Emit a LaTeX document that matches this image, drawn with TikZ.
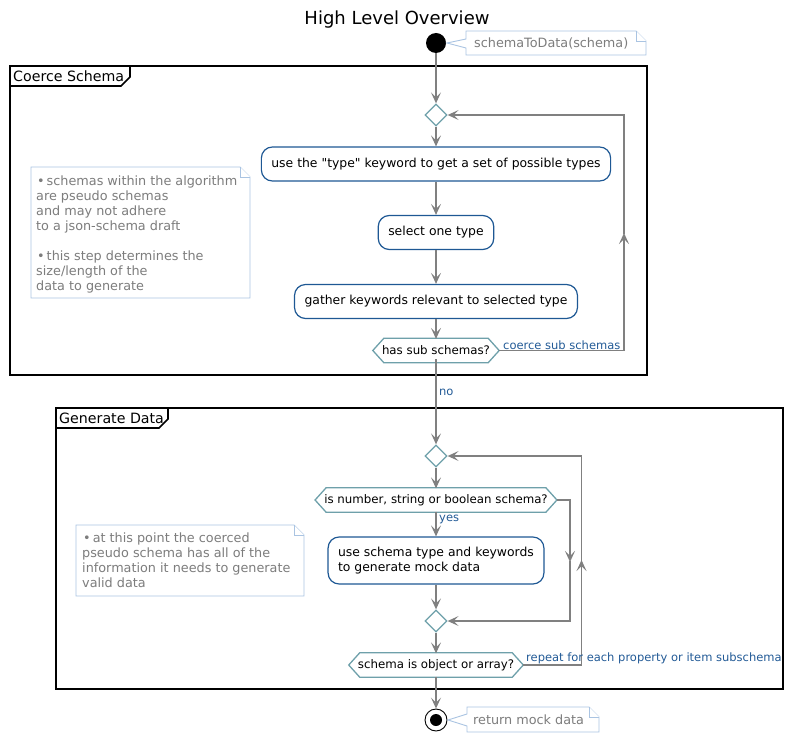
\documentclass[tikz,border=0pt]{standalone}
\usepackage{fontspec}
\setmainfont{DejaVu Sans}
\usetikzlibrary{shapes.geometric,arrows.meta,calc}
\definecolor{boxc}{RGB}{30,88,148}
\definecolor{dmc}{RGB}{110,160,170}
\definecolor{notec}{RGB}{170,196,226}
\definecolor{notet}{RGB}{125,125,125}
\definecolor{lblc}{RGB}{34,90,150}
\definecolor{linec}{RGB}{128,128,128}
\newcommand\straightquote{\XeTeXglyph\XeTeXcharglyph"0022\relax}
\tikzset{
  arr/.tip={Stealth[length=11pt,width=10pt,inset=5pt]},
  flow/.style={draw=linec, line width=1.3pt, -arr},
  plainline/.style={draw=linec, line width=1.3pt},
  actbox/.style={draw=boxc, line width=1.2pt, rounded corners=11pt, fill=white,
    inner xsep=10pt, minimum height=34pt, font=\fontsize{12.4}{15}\selectfont},
  merge/.style={diamond, draw=dmc, line width=1.3pt, minimum width=22pt,
    minimum height=22pt, inner sep=0pt, fill=white},
  hexbox/.style={inner xsep=0pt, inner ysep=0pt, minimum height=24pt, font=\fontsize{11.8}{13}\selectfont},
  hexline/.style={draw=dmc, line width=1.3pt},
  lbl/.style={text=lblc, font=\fontsize{11.5}{13}\selectfont, inner sep=0pt},
  notetxt/.style={text=notet, font=\fontsize{12.8}{15}\selectfont, align=left, inner sep=0pt},
  noteline/.style={draw=notec, line width=0.9pt, fill=white},
  frameline/.style={draw=black, line width=1.7pt},
  framelbl/.style={font=\fontsize{14.2}{16}\selectfont, inner sep=0pt},
}
\newcommand\hexshape[1]{%
  \draw[hexline] ([xshift=-9pt]#1.west) -- ([xshift=2pt]#1.north west)
    -- ([xshift=-2pt]#1.north east) -- ([xshift=9pt]#1.east)
    -- ([xshift=-2pt]#1.south east) -- ([xshift=2pt]#1.south west) -- cycle;
  \coordinate (#1-e) at ([xshift=9pt]#1.east);}
\begin{document}
\begin{tikzpicture}[x=1pt,y=-1pt]
\useasboundingbox (0,0) rectangle (794,743);

% title
\node (title) at (397,20) {\fontsize{18}{20}\selectfont High Level Overview};

% frames
\draw[frameline] (10,66) rectangle (647,375);
\draw[frameline] (10,86) -- (121,86) -- (130,77) -- (130,66);
\node[framelbl, anchor=west] (f1lbl) at (13,76) {Coerce Schema};

\draw[frameline] (56,408) rectangle (783,689);
\draw[frameline] (56,428) -- (159,428) -- (168,419) -- (168,408);
\node[framelbl, anchor=west] (f2lbl) at (59,418) {Generate Data};

% start
\node[circle, fill=black, minimum size=20pt, inner sep=0pt] (start) at (436,43) {};
\draw[noteline] (466,31) -- (636,31) -- (646,41) -- (646,55) -- (466,55) -- (466,48) -- (447,43) -- (466,39) -- cycle;
\draw[noteline] (636,31) -- (636,41) -- (646,41);
\node[notetxt, anchor=west] (n0) at (474,43) {schemaToData(schema)};

% coerce schema
\node[merge] (d1) at (436,115) {};
\node[actbox] (b1) at (436,164) {use the \straightquote type\straightquote{} keyword to get a set of possible types};
\node[actbox] (b2) at (436,232.5) {select one type};
\node[actbox] (b3) at (436,301.5) {gather keywords relevant to selected type};
\node[hexbox] (h1) at (436,350.5) {has sub schemas?};
\hexshape{h1}

\draw[noteline] (31,167) -- (240,167) -- (250,177) -- (250,298) -- (31,298) -- cycle;
\draw[noteline] (240,167) -- (240,177) -- (250,177);
\node[notetxt, anchor=north west] (n1) at (36,175.5) {\hspace{1pt}•\hspace{2pt}schemas within the algorithm\\are pseudo schemas\\and may not adhere\\to a json-schema draft\\[15pt]\hspace{1pt}•\hspace{2pt}this step determines the\\size/length of the\\data to generate};

\draw[flow] (start) -- (d1.north);
\draw[flow] (d1.south) -- (b1.north);
\draw[flow] (b1.south) -- (b2.north);
\draw[flow] (b2.south) -- (b3.north);
\draw[flow] (b3.south) -- ([yshift=-0.6pt]h1.north);
\draw[flow] (h1-e) -- (624,350.5) -- (624,233);
\draw[flow] (624,234) -- (624,115) -- (d1.east);
\node[lbl, anchor=south west] (l1) at (503,349.5) {coerce sub schemas};

% generate data
\node[merge] (d2) at (436,456) {};
\node[hexbox] (h2) at (436,500) {is number, string or boolean schema?};
\hexshape{h2}
\node[actbox, align=left, minimum height=47pt] (b4) at (436,560.5) {use schema type and keywords\\to generate mock data};
\node[merge] (d3) at (436,621) {};
\node[hexbox] (h3) at (436,665) {schema is object or array?};
\hexshape{h3}

\draw[noteline] (76,525) -- (294,525) -- (304,535) -- (304,596) -- (76,596) -- cycle;
\draw[noteline] (294,525) -- (294,535) -- (304,535);
\node[notetxt, anchor=north west] (n2) at (82,532.5) {\hspace{1pt}•\hspace{2pt}at this point the coerced\\pseudo schema has all of the\\information it needs to generate\\valid data};

\draw[flow] ([yshift=3.5pt]h1.south) -- (d2.north);
\node[lbl, anchor=west] (lno) at (439,392) {no};
\draw[flow] (d2.south) -- ([yshift=-0.6pt]h2.north);
\draw[flow] ([yshift=0.6pt]h2.south) -- (b4.north);
\node[lbl, anchor=west] (lyes) at (439,519) {yes};
\draw[flow] (b4.south) -- (d3.north);
\draw[flow] (d3.south) -- ([yshift=-0.6pt]h3.north);
\draw[flow] (h2-e) -- (570,500) -- (570,562);
\draw[flow] (570,561) -- (570,621) -- (d3.east);
\draw[flow] (h3-e) -- (581.5,665) -- (581.5,560);
\draw[flow] (581.5,561) -- (581.5,456) -- (d2.east);
\node[lbl, anchor=south west] (l2) at (526,664.5) {repeat for each property or item subschema};

% end
\node[circle, draw=black, line width=0.9pt, fill=white, minimum size=22pt, inner sep=0pt] (stop) at (436,720) {};
\node[circle, fill=black, minimum size=12pt, inner sep=0pt] (stopin) at (436,720) {};
\draw[flow] ([yshift=0.6pt]h3.south) -- (stop.north);
\draw[noteline] (467,707) -- (589,707) -- (599,717) -- (599,732) -- (467,732) -- (467,726) -- (448,720) -- (467,714) -- cycle;
\draw[noteline] (589,707) -- (589,717) -- (599,717);
\node[notetxt, anchor=west] (n3) at (473,720) {return mock data};
\end{tikzpicture}
\end{document}
